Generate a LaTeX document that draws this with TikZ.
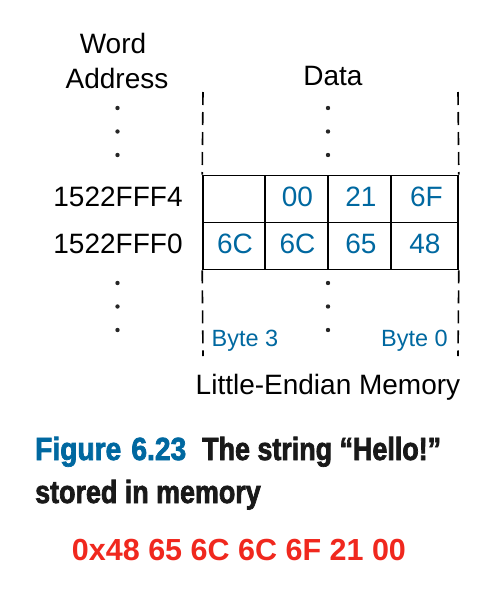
\documentclass[tikz,border=0pt]{standalone}
\usepackage{fontspec}
\setmainfont{Liberation Sans}
\newfontfamily\figfont[FakeStretch=0.88,FakeBold=2.2,WordSpace=1.3]{Liberation Sans Bold}
\newfontfamily\capfont[FakeStretch=0.84,FakeBold=2.2]{Liberation Sans Bold}
\definecolor{figblue}{RGB}{0,104,160}
\definecolor{figred}{RGB}{240,40,30}
\begin{document}
\begin{tikzpicture}[x=1pt,y=-1pt,
  lbl/.style={anchor=base,inner sep=0pt,font=\fontsize{28}{33}\selectfont},
  val/.style={anchor=base,inner sep=0pt,text=figblue,font=\fontsize{28}{33}\selectfont},
  bytelbl/.style={anchor=base,inner sep=0pt,text=figblue,font=\fontsize{23.5}{28}\selectfont},
  cell/.style={draw,line width=1.6pt,inner sep=0pt,minimum height=47pt},
  bound/.style={line width=1.6pt,dash pattern=on 13pt off 7pt},
  dot/.style={circle,fill=black!85,inner sep=0pt,minimum size=4.4pt},
  figtext/.style={anchor=base west,inner sep=0pt,font=\figfont\fontsize{32}{38}\selectfont},
  captext/.style={anchor=base west,inner sep=0pt,font=\capfont\fontsize{32}{38}\selectfont}]
\useasboundingbox (0,0) rectangle (500,592);
% headings
\node[lbl] (word) at (113,53) {Word};
\node[lbl] (addr) at (117,88) {Address};
\node[lbl] (data) at (333,85) {Data};
% addresses
\node[lbl] (a4) at (118,206.5) {1522FFF4};
\node[lbl] (a0) at (118,253) {1522FFF0};
% cells row 1 (1522FFF4)
\node[cell,minimum width=62pt] (c13) at (234,199) {};
\node[cell,minimum width=63pt] (c12) at (296.5,199) {};
\node[cell,minimum width=63pt] (c11) at (359.5,199) {};
\node[cell,minimum width=67pt] (c10) at (424.5,199) {};
% cells row 0 (1522FFF0)
\node[cell,minimum width=62pt] (c03) at (234,246) {};
\node[cell,minimum width=63pt] (c02) at (296.5,246) {};
\node[cell,minimum width=63pt] (c01) at (359.5,246) {};
\node[cell,minimum width=67pt] (c00) at (424.5,246) {};
% values
\node[val] (v12) at (297.5,206) {00};
\node[val] (v11) at (361,206) {21};
\node[val] (v10) at (426.5,206) {6F};
\node[val] (v03) at (235,253) {6C};
\node[val] (v02) at (297.5,253) {6C};
\node[val] (v01) at (361,253) {65};
\node[val] (v00) at (425,253) {48};
% dashed boundaries
\coordinate (lt) at (203,92);
\coordinate (rt) at (458,92);
\coordinate (lb) at (203,356);
\coordinate (rb) at (458,356);
\draw[bound] (lt) -- (c13.north west);
\draw[bound] (rt) -- (c10.north east);
\draw[bound] (c03.south west) -- (lb);
\draw[bound] (c00.south east) -- (rb);
% dots
\foreach \y/\n in {108/1,131.5/2,155/3,283/4,306.5/5,330/6}{
  \node[dot] (ld\n) at (117.5,\y) {};
  \node[dot] (dd\n) at (328,\y) {};
}
% byte labels
\node[bytelbl] (b3) at (245,346) {Byte 3};
\node[bytelbl] (b0) at (414.5,346) {Byte 0};
\node[lbl] (title) at (328,394) {Little-Endian Memory};
% caption
\node[figtext,text=figblue] (fig) at (35,460) {Figure 6.23};
\node[captext,text=black!90] (cap1) at (202,460) {The string “Hello!”};
\node[captext,text=black!90] (cap2) at (35,503) {stored in memory};
% red string
\node[anchor=base,inner sep=0pt,text=figred,font=\bfseries\fontsize{30.5}{36}\selectfont] (str) at (239,560) {0x48 65 6C 6C 6F 21 00};
\end{tikzpicture}
\end{document}
